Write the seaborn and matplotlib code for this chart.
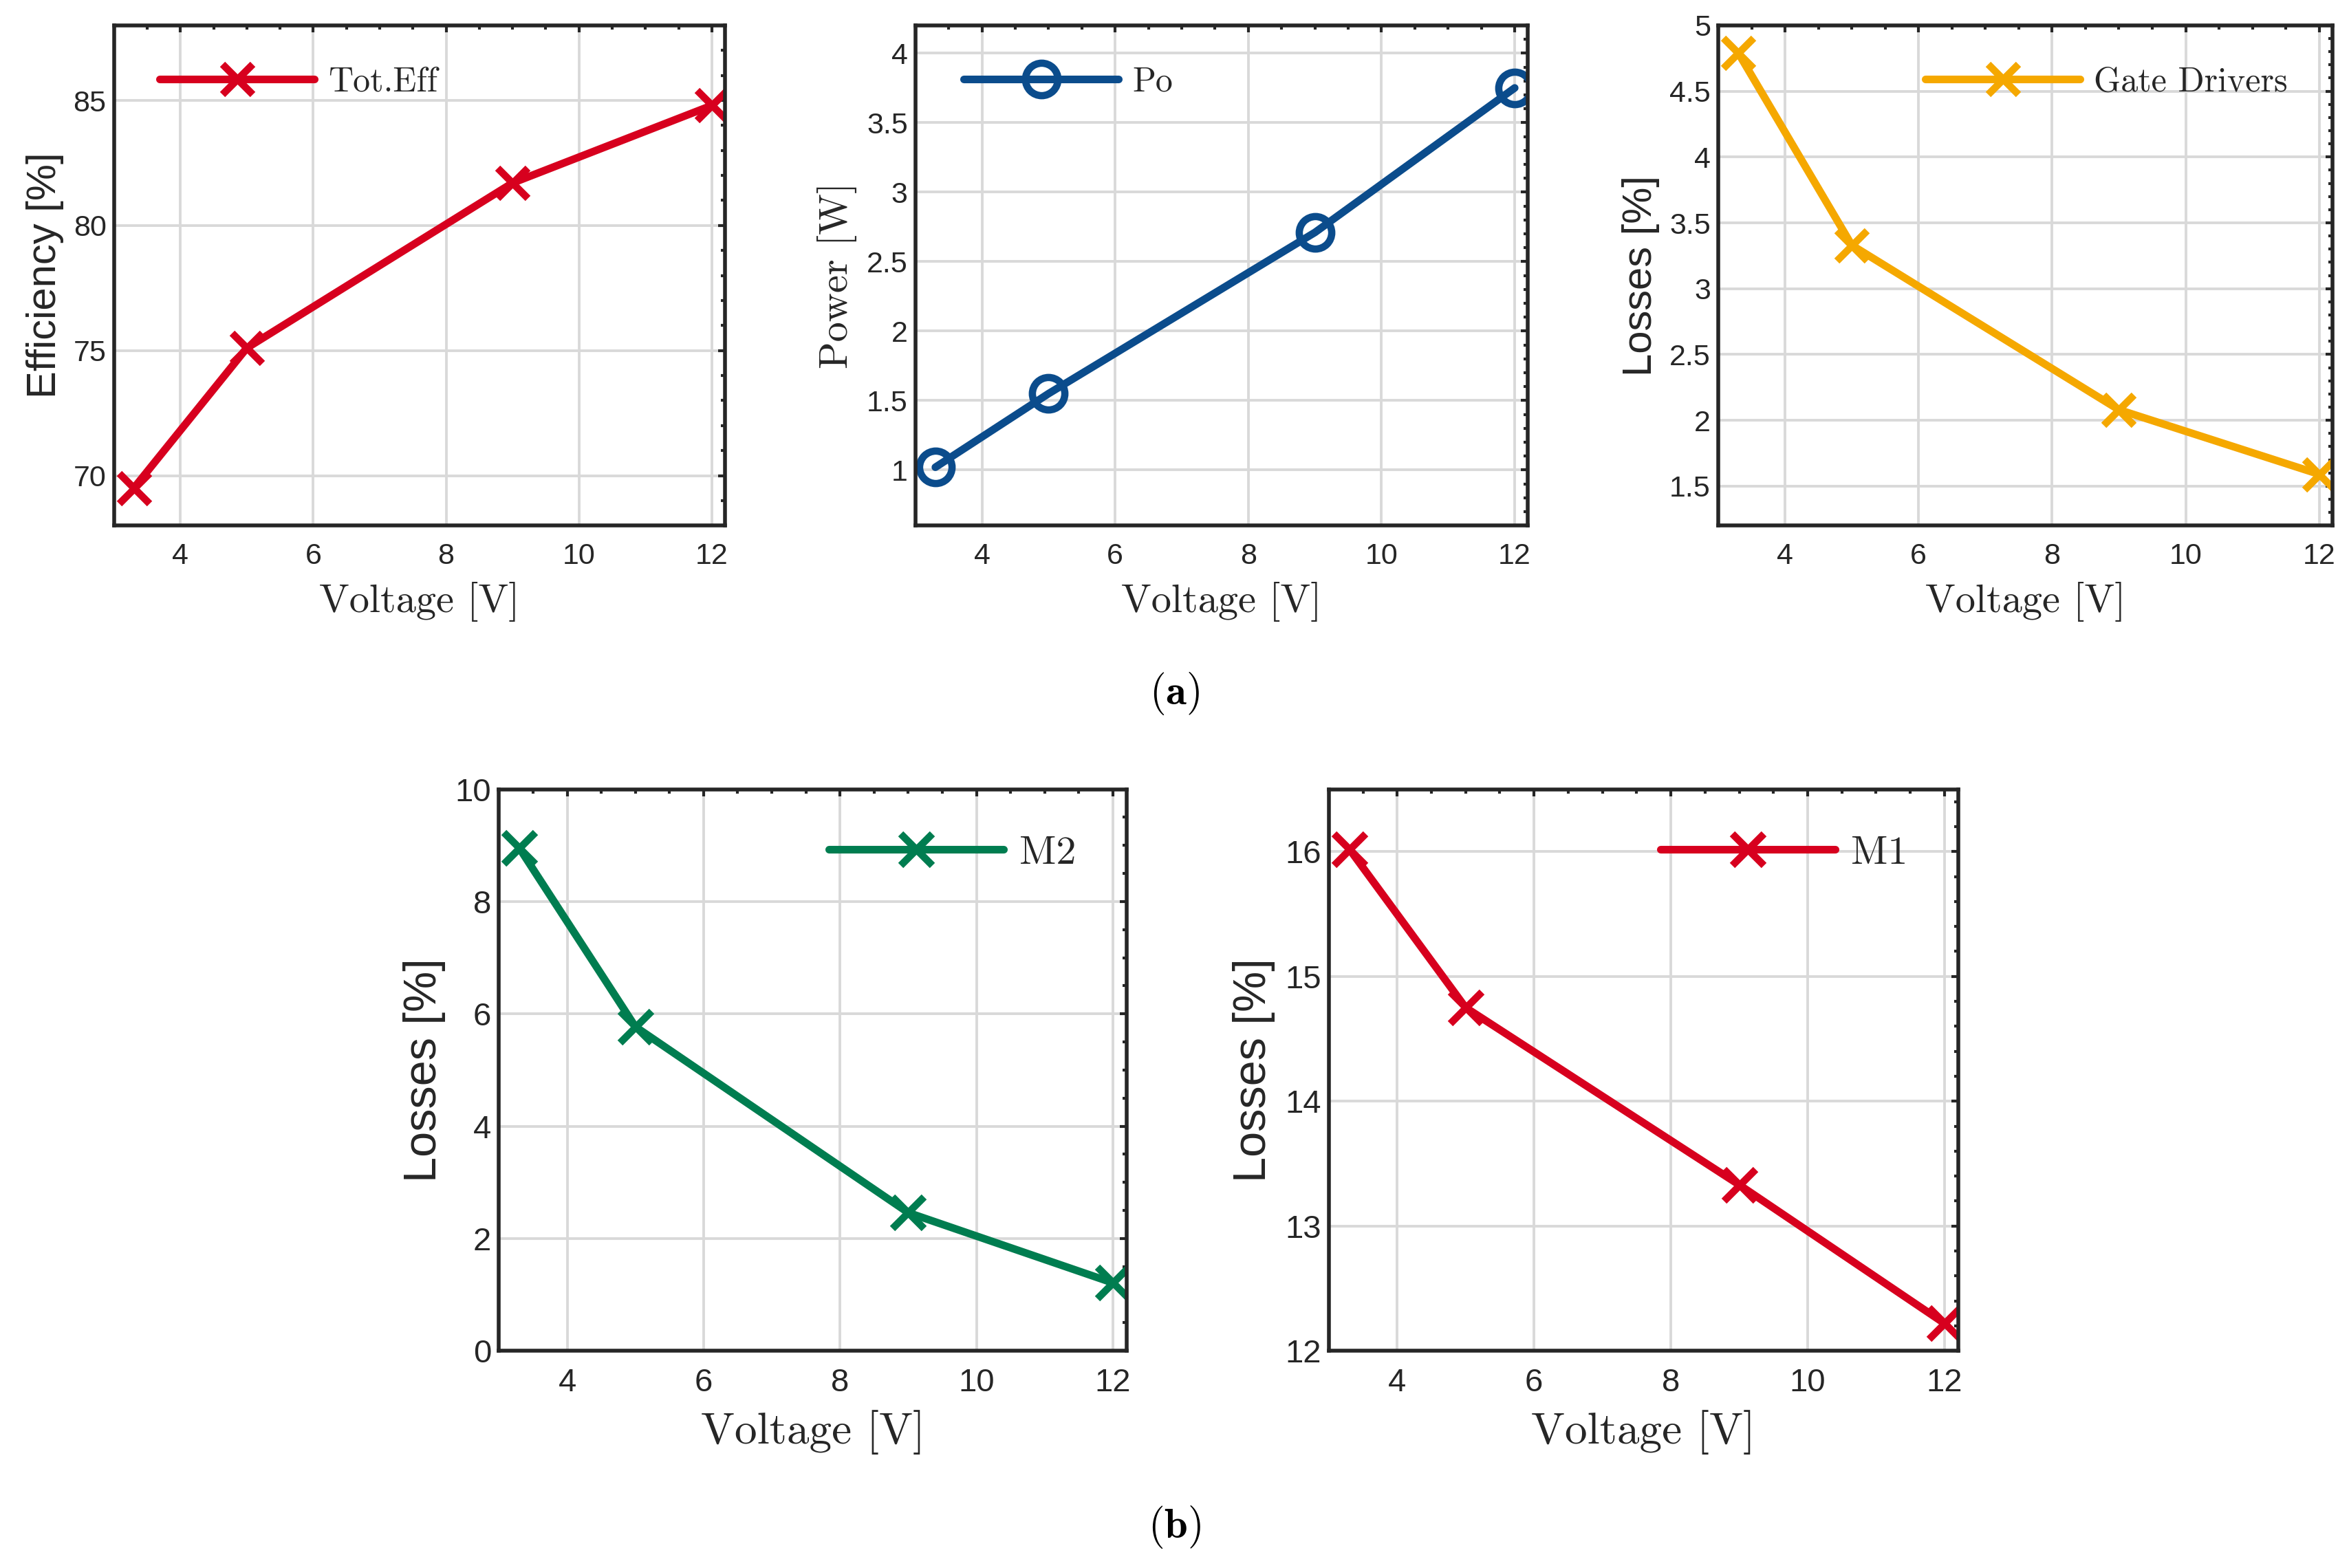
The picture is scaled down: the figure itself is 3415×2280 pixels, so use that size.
import matplotlib
matplotlib.use("Agg")
import matplotlib.pyplot as plt
from matplotlib.ticker import MultipleLocator, FuncFormatter
import seaborn as sns

# data
voltage = [3.3, 5, 9, 12]
efficiency = [69.5, 75.1, 81.7, 84.8]
power_out = [1.02, 1.55, 2.71, 3.75]
gate_driver_loss = [4.79, 3.33, 2.08, 1.59]
m2_loss = [8.95, 5.77, 2.46, 1.21]
m1_loss = [16.02, 14.75, 13.33, 12.22]

x_ticks = [4, 6, 8, 10, 12]

RED = "#D7001E"
BLUE = "#0B4C8C"
ORANGE = "#F5A800"
GREEN = "#007D50"
DARK = "#262626"

sns.set_style("white")
plt.rcParams["font.family"] = ["Liberation Sans", "DejaVu Sans"]
plt.rcParams["mathtext.fontset"] = "cm"
plt.rcParams["axes.unicode_minus"] = False

SERIF = "cmr10"


def fmt_g(v, pos):
    return f"{v:g}"


def style_axes(ax, ylim, yticks, yminor, tick_size, xlabel_size):
    ax.set_xlim(3.0, 12.2)
    ax.set_ylim(*ylim)
    ax.set_xticks(x_ticks)
    ax.set_yticks(yticks)
    ax.xaxis.set_minor_locator(MultipleLocator(0.5))
    ax.yaxis.set_minor_locator(MultipleLocator(yminor))
    ax.yaxis.set_major_formatter(FuncFormatter(fmt_g))
    ax.tick_params(which="both", direction="in", top=True, right=True,
                   color=DARK, width=1.5)
    ax.tick_params(which="major", length=3.5, labelsize=tick_size,
                   labelcolor=DARK)
    ax.tick_params(which="minor", length=2.2)
    ax.tick_params(axis="x", pad=9)
    ax.tick_params(axis="y", pad=4)
    ax.grid(True, which="major", color="#d9d9d9", linewidth=1.4)
    ax.set_axisbelow(True)
    for sp in ax.spines.values():
        sp.set_visible(True)
        sp.set_color(DARK)
        sp.set_linewidth(2.0)
    ax.set_xlabel("Voltage [V]", fontfamily=SERIF, fontsize=xlabel_size,
                  color=DARK, labelpad=6)


def draw(ax, y, color, marker, label, ms, lw=4.0):
    kw = dict(markeredgecolor=color, markeredgewidth=3.8)
    if marker == "o":
        kw["markerfacecolor"] = "none"
    sns.lineplot(x=voltage, y=y, ax=ax, color=color, marker=marker,
                 markersize=ms, linewidth=lw, label=label, errorbar=None,
                 legend=False, **kw)


def add_legend(ax, side, xpos, fs, hl):
    h, l = ax.get_legend_handles_labels()
    loc = "center left" if side == "left" else "center right"
    leg = ax.legend(h, l, loc=loc, bbox_to_anchor=(xpos, 0.886),
                    frameon=False, borderpad=0, borderaxespad=0,
                    handlelength=hl, handletextpad=0.4, numpoints=1,
                    prop={"family": SERIF, "size": fs})
    for t in leg.get_texts():
        t.set_color(DARK)


fig = plt.figure(figsize=(17.075, 11.4), dpi=200)

# top row
ax1 = fig.add_axes([0.0485, 0.6648, 0.2602, 0.3190])
ax2 = fig.add_axes([0.3897, 0.6648, 0.2608, 0.3190])
ax3 = fig.add_axes([0.7315, 0.6648, 0.2615, 0.3190])
# bottom row
ax4 = fig.add_axes([0.2124, 0.1385, 0.2672, 0.3582])
ax5 = fig.add_axes([0.5657, 0.1385, 0.2679, 0.3582])

draw(ax1, efficiency, RED, "x", "Tot.Eff", 15.5)
style_axes(ax1, (68, 88), [70, 75, 80, 85], 1, 15.5, 21)
ax1.set_ylabel("Efficiency [%]", fontsize=21.5, color=DARK, labelpad=5)
add_legend(ax1, "left", 0.075, 18, 4.5)

draw(ax2, power_out, BLUE, "o", "Po", 17)
style_axes(ax2, (0.6, 4.2), [1, 1.5, 2, 2.5, 3, 3.5, 4], 0.1, 15.5, 21)
ax2.set_ylabel("Power [W]", fontfamily=SERIF, fontsize=21, color=DARK,
               labelpad=5)
add_legend(ax2, "left", 0.079, 18, 4.5)

draw(ax3, gate_driver_loss, ORANGE, "x", "Gate Drivers", 15.5)
style_axes(ax3, (1.2, 5.0), [1.5, 2, 2.5, 3, 3.5, 4, 4.5, 5], 0.1, 15.5, 21)
ax3.set_ylabel("Losses [%]", fontsize=21.5, color=DARK, labelpad=5)
add_legend(ax3, "right", 0.927, 18, 4.5)

draw(ax4, m2_loss, GREEN, "x", "M2", 16.5)
style_axes(ax4, (0, 10), [0, 2, 4, 6, 8, 10], 0.5, 17, 23.5)
ax4.set_ylabel("Losses [%]", fontsize=24, color=DARK, labelpad=5)
add_legend(ax4, "right", 0.92, 21, 4.35)

draw(ax5, m1_loss, RED, "x", "M1", 16.5)
style_axes(ax5, (12, 16.5), [12, 13, 14, 15, 16], 0.2, 17, 23.5)
ax5.set_ylabel("Losses [%]", fontsize=24, color=DARK, labelpad=5)
add_legend(ax5, "right", 0.92, 21, 4.35)

fig.text(0.5, 0.5578, r"$(\mathbf{a})$", ha="center", va="center",
         fontsize=22, color="black")
fig.text(0.5, 0.026, r"$(\mathbf{b})$", ha="center", va="center",
         fontsize=22, color="black")

fig.savefig("out.png", dpi=200, facecolor="white")
